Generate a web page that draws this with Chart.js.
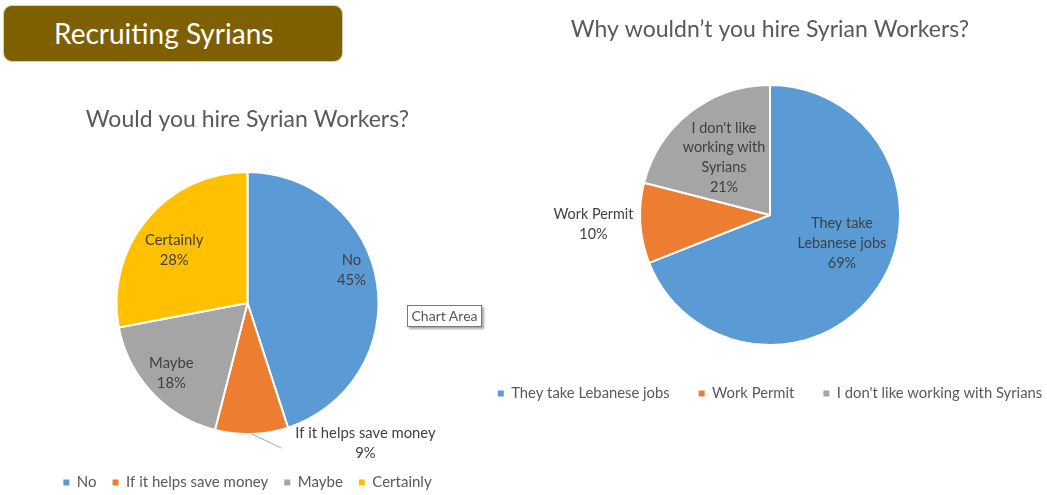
<!DOCTYPE html>
<html>
<head>
<meta charset="utf-8">
<script src="https://cdn.jsdelivr.net/npm/chart.js@4.4.0/dist/chart.umd.min.js"></script>
<style>
  html, body { margin: 0; padding: 0; background: #fff; width: 1047px; height: 495px; overflow: hidden; font-family: Lato, sans-serif; }
  #banner {
    position: absolute; left: 3px; top: 5px; width: 340px; height: 57px;
    box-sizing: border-box; background: #7f6000; border: 1px solid #d8cfb6; border-radius: 9px;
    color: #fff; font-size: 28px; line-height: 54px; padding-left: 50px;
  }
  #hire { position: absolute; left: 0; top: 0; }
  #whyNot { position: absolute; left: 460px; top: 0; }
  #tip {
    position: absolute; left: 407px; top: 305px; width: 75px; height: 22px; box-sizing: border-box;
    background: #fff; border: 1px solid #7a7a7a; box-shadow: 2px 2px 2px rgba(0, 0, 0, 0.35);
    color: #575757; font-size: 14px; line-height: 20px; text-align: center;
  }
</style>
</head>
<body>
<div id="banner">Recruiting Syrians</div>
<canvas id="hire" width="495" height="500"></canvas>
<canvas id="whyNot" width="620" height="411"></canvas>
<div id="tip">Chart Area</div>
<script>
const hireLabels = ['No', 'If it helps save money', 'Maybe', 'Certainly'];
const hireValues = [45, 9, 18, 28];
const hireColors = ['#5b9bd5', '#ed7d31', '#a5a5a5', '#ffc000'];

const whyNotLabels = ['They take Lebanese jobs', 'Work Permit', "I don't like working with Syrians"];
const whyNotValues = [69, 10, 21];
const whyNotColors = ['#5b9bd5', '#ed7d31', '#a5a5a5'];
// how the slice labels wrap inside the pie
const whyNotLines = [['They take', 'Lebanese jobs'], ['Work Permit'], ["I don't like", 'working with', 'Syrians']];

Chart.defaults.font.family = 'Lato, sans-serif';
Chart.defaults.color = '#595959';

// draws "name / xx%" on each slice, like Excel data labels
const sliceLabels = {
  id: 'sliceLabels',
  afterDatasetsDraw(chart, args, opts) {
    const ctx = chart.ctx;
    const meta = chart.getDatasetMeta(0);
    const values = chart.data.datasets[0].data;
    const total = values.reduce((a, b) => a + b, 0);
    ctx.save();
    ctx.font = opts.font;
    ctx.fillStyle = '#404040';
    ctx.textAlign = 'center';
    ctx.textBaseline = 'middle';
    meta.data.forEach((arc, i) => {
      const place = opts.place[i];
      const mid = (arc.startAngle + arc.endAngle) / 2;
      const ang = mid + place[0] * Math.PI / 180;
      const dist = arc.outerRadius * place[1];
      const cx = arc.x + Math.cos(ang) * dist;
      const cy = arc.y + Math.sin(ang) * dist;
      const lines = opts.lines[i].concat(Math.round(values[i] / total * 100) + '%');
      const top = cy - (lines.length - 1) * opts.lineHeight / 2;
      lines.forEach((t, k) => ctx.fillText(t, cx, top + k * opts.lineHeight));
      if (place[2]) {
        const w = Math.max(...lines.map(t => ctx.measureText(t).width));
        ctx.beginPath();
        ctx.strokeStyle = '#a6a6a6';
        ctx.lineWidth = 1;
        ctx.moveTo(arc.x + Math.cos(mid) * arc.outerRadius, arc.y + Math.sin(mid) * arc.outerRadius);
        ctx.lineTo(cx - w / 2 - 14, cy + 5);
        ctx.stroke();
      }
    });
    ctx.restore();
  }
};

function legendLabels(chart) {
  const items = Chart.overrides.pie.plugins.legend.labels.generateLabels(chart);
  items.forEach(it => { it.lineWidth = 0; });
  return items;
}

function pieOptions(title, padTop, titleGap, radius, legendSize, legendGap) {
  return {
    responsive: false,
    animation: false,
    events: [],
    layout: { padding: { top: padTop, bottom: 0, left: 0, right: 0 } },
    plugins: {
      title: {
        display: true,
        text: title,
        color: '#595959',
        font: { size: 23, weight: 'normal' },
        padding: { top: 0, bottom: titleGap }
      },
      legend: {
        position: 'bottom',
        labels: {
          boxWidth: 6,
          boxHeight: 6,
          padding: legendGap,
          color: '#595959',
          font: { size: legendSize },
          generateLabels: legendLabels
        }
      },
      tooltip: { enabled: false }
    },
    radius: radius
  };
}

const hireOptions = pieOptions('Would you hire Syrian Workers?', 106.2, 13.2, 131, 15, 16);
hireOptions.plugins.sliceLabels = {
  font: '14.8px Lato, sans-serif',
  lineHeight: 20,
  lines: hireLabels.map(l => [l]),
  place: [[-8.6, 0.833], [-38.3, 1.398, true], [0.6, 0.79], [-3.8, 0.69]]
};

new Chart(document.getElementById('hire'), {
  type: 'pie',
  data: {
    labels: hireLabels,
    datasets: [{
      data: hireValues,
      backgroundColor: hireColors,
      borderColor: '#ffffff',
      borderWidth: 2
    }]
  },
  options: hireOptions,
  plugins: [sliceLabels]
});

const whyNotOptions = pieOptions('Why wouldn\u2019t you hire Syrian Workers?', 16.2, 29, 130, 14.8, 29);
whyNotOptions.plugins.sliceLabels = {
  font: '14.4px Lato, sans-serif',
  lineHeight: 19.7,
  lines: whyNotLines,
  place: [[-12.6, 0.595], [0.5, 1.36], [-0.9, 0.566]]
};

new Chart(document.getElementById('whyNot'), {
  type: 'pie',
  data: {
    labels: whyNotLabels,
    datasets: [{
      data: whyNotValues,
      backgroundColor: whyNotColors,
      borderColor: '#ffffff',
      borderWidth: 2
    }]
  },
  options: whyNotOptions,
  plugins: [sliceLabels]
});
</script>
</body>
</html>
